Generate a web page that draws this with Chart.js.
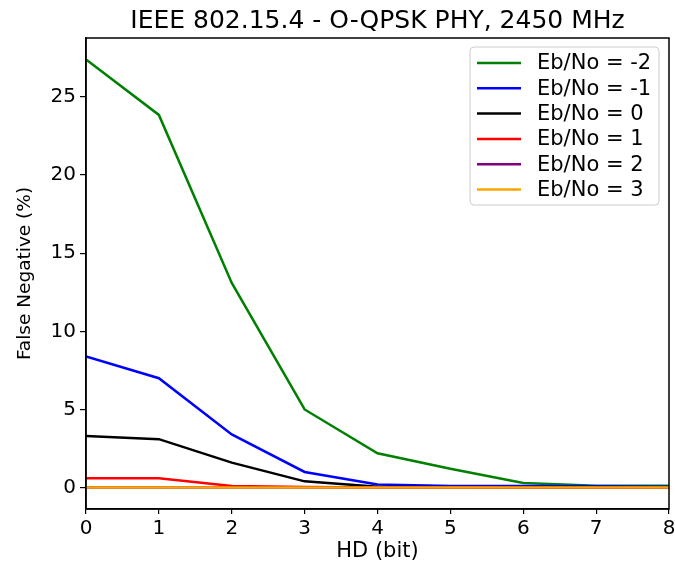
<!DOCTYPE html>
<html>
<head>
<meta charset="utf-8">
<script src="https://cdn.jsdelivr.net/npm/chart.js@4/dist/chart.umd.min.js"></script>
<style>
  html, body { margin: 0; padding: 0; background: #ffffff; }
  #wrap { width: 675px; height: 561px; }
</style>
</head>
<body>
<div id="wrap"><canvas id="c" width="675" height="561"></canvas></div>
<script>
const TITLE = 'IEEE 802.15.4 - O-QPSK PHY, 2450 MHz';
const X_LABEL = 'HD (bit)';
const Y_LABEL = 'False Negative (%)';
const hd = [0, 1, 2, 3, 4, 5, 6, 7, 8];
const xTicks = [0, 1, 2, 3, 4, 5, 6, 7, 8];
const yTicks = [0, 5, 10, 15, 20, 25];
const seriesNames = ['Eb/No = -2', 'Eb/No = -1', 'Eb/No = 0', 'Eb/No = 1', 'Eb/No = 2', 'Eb/No = 3'];
const ebNoM2 = [27.4, 23.85, 13.1, 5.0, 2.2, 1.2, 0.3, 0.12, 0.12];
const ebNoM1 = [8.4, 7.0, 3.4, 1.0, 0.2, 0.1, 0.1, 0.08, 0.05];
const ebNo0  = [3.3, 3.1, 1.6, 0.4, 0.05, 0.02, 0.0, 0.0, 0.0];
const ebNo1  = [0.6, 0.6, 0.1, 0.03, 0.0, 0.0, 0.0, 0.0, 0.0];
const ebNo2  = [0, 0, 0, 0, 0, 0, 0, 0, 0];
const ebNo3  = [0, 0, 0, 0, 0, 0, 0, 0, 0];
const seriesValues = [ebNoM2, ebNoM1, ebNo0, ebNo1, ebNo2, ebNo3];
const seriesColors = ['#008000', '#0000ff', '#000000', '#ff0000', '#800080', '#ffa500'];

const FONT = 'DejaVu Sans';

const datasets = seriesNames.map((name, i) => ({
  label: name,
  data: hd.map((x, j) => ({ x: x, y: seriesValues[i][j] })),
  borderColor: seriesColors[i],
  backgroundColor: seriesColors[i],
  borderWidth: 2.5,
  pointRadius: 0,
  tension: 0,
  fill: false,
  order: seriesNames.length - i
}));

const framePlugin = {
  id: 'frame',
  afterDatasetsDraw(chart) {
    const { ctx, chartArea: a } = chart;
    ctx.save();
    ctx.strokeStyle = '#000';
    ctx.lineWidth = 1.5;
    ctx.strokeRect(a.left, a.top, a.right - a.left, a.bottom - a.top);
    ctx.restore();
  }
};

const titlePlugin = {
  id: 'topTitle',
  afterDraw(chart) {
    const { ctx, chartArea: a } = chart;
    ctx.save();
    ctx.fillStyle = '#000';
    ctx.font = '25px "' + FONT + '"';
    ctx.textAlign = 'center';
    ctx.textBaseline = 'alphabetic';
    ctx.fillText(TITLE, (a.left + a.right) / 2, 28);
    ctx.restore();
  }
};

const legendPlugin = {
  id: 'boxLegend',
  afterDraw(chart) {
    const { ctx, chartArea: a } = chart;
    const w = 189, rowH = 25.3, h = 158;
    const x0 = a.right - 10 - w, y0 = a.top + 9;
    ctx.save();
    ctx.fillStyle = 'rgba(255,255,255,0.85)';
    ctx.strokeStyle = '#cccccc';
    ctx.lineWidth = 1;
    const r = 4;
    ctx.beginPath();
    ctx.moveTo(x0 + r, y0);
    ctx.lineTo(x0 + w - r, y0);
    ctx.quadraticCurveTo(x0 + w, y0, x0 + w, y0 + r);
    ctx.lineTo(x0 + w, y0 + h - r);
    ctx.quadraticCurveTo(x0 + w, y0 + h, x0 + w - r, y0 + h);
    ctx.lineTo(x0 + r, y0 + h);
    ctx.quadraticCurveTo(x0, y0 + h, x0, y0 + h - r);
    ctx.lineTo(x0, y0 + r);
    ctx.quadraticCurveTo(x0, y0, x0 + r, y0);
    ctx.closePath();
    ctx.fill();
    ctx.stroke();
    ctx.font = '21px "' + FONT + '"';
    ctx.textBaseline = 'middle';
    ctx.textAlign = 'left';
    chart.data.datasets.forEach((ds, i) => {
      const cy = y0 + 16 + i * rowH;
      ctx.strokeStyle = ds.borderColor;
      ctx.lineWidth = 2.5;
      ctx.beginPath();
      ctx.moveTo(x0 + 7, cy);
      ctx.lineTo(x0 + 51, cy);
      ctx.stroke();
      ctx.fillStyle = '#000';
      ctx.fillText(ds.label, x0 + 67, cy + 1);
    });
    ctx.restore();
  }
};

new Chart(document.getElementById('c'), {
  type: 'line',
  data: { datasets: datasets },
  plugins: [framePlugin, titlePlugin, legendPlugin],
  options: {
    responsive: false,
    animation: false,
    layout: { padding: { top: 38, right: 6, left: 0, bottom: 0 } },
    plugins: {
      legend: { display: false },
      title: { display: false },
      tooltip: { enabled: false }
    },
    scales: {
      x: {
        type: 'linear',
        min: 0,
        max: 8,
        afterBuildTicks: (s) => { s.ticks = xTicks.map(v => ({ value: v })); },
        afterFit: (s) => { s.height = 52; s.paddingLeft = 0; s.paddingRight = 0; },
        grid: { drawOnChartArea: false, drawTicks: true, tickLength: 5, color: '#000', lineWidth: 1.2 },
        border: { display: true, color: '#000', width: 1.5 },
        ticks: { color: '#000', font: { family: FONT, size: 20 }, padding: 3, maxRotation: 0 },
        title: { display: true, text: X_LABEL, color: '#000', font: { family: FONT, size: 21, lineHeight: 0.9 }, padding: { top: 0, bottom: 0 } }
      },
      y: {
        type: 'linear',
        min: -1.37,
        max: 28.77,
        afterBuildTicks: (s) => { s.ticks = yTicks.map(v => ({ value: v })); },
        afterFit: (s) => { s.width = 86; s.paddingTop = 0; s.paddingBottom = 0; },
        grid: { drawOnChartArea: false, drawTicks: true, tickLength: 6, color: '#000', lineWidth: 1.2 },
        border: { display: true, color: '#000', width: 1.5 },
        ticks: { color: '#000', font: { family: FONT, size: 20 }, padding: 4 },
        title: { display: true, text: Y_LABEL, color: '#000', font: { family: FONT, size: 18.5 }, padding: { top: 14, bottom: 0 } }
      }
    }
  }
});
</script>
</body>
</html>
